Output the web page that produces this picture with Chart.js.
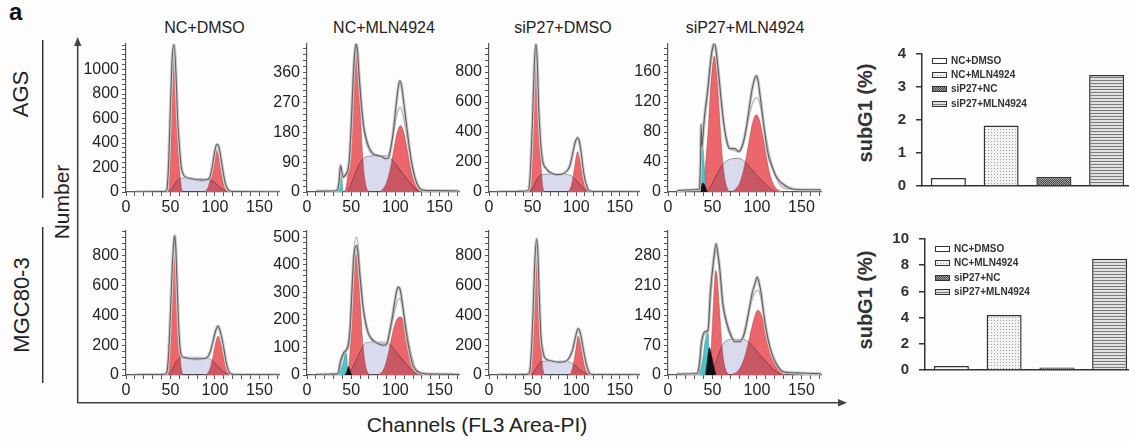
<!DOCTYPE html>
<html><head><meta charset="utf-8">
<script src="https://cdn.jsdelivr.net/npm/chart.js@4.4.1/dist/chart.umd.min.js"></script>
<style>
html,body{margin:0;padding:0;background:#fdfdfe;width:1129px;height:442px;overflow:hidden;font-family:"Liberation Sans",Arial,Helvetica,sans-serif;}
canvas{position:absolute;}
.t{position:absolute;white-space:nowrap;color:#222;line-height:1;}
.r{position:absolute;white-space:nowrap;color:#222;line-height:1;transform:translate(-50%,-50%) rotate(-90deg);}
svg{position:absolute;left:0;top:0;}
</style></head><body>
<div class="t" style="left:9px;top:0px;font-size:24px;font-weight:bold;color:#111">a</div>
<div id="titles"></div>
<div class="r" style="left:21px;top:94px;font-size:22px;">AGS</div>
<div class="r" style="left:22px;top:305px;font-size:22px;">MGC80-3</div>
<div class="r" style="left:61px;top:202px;font-size:21px;">Number</div>
<div class="t" style="left:477px;top:414px;font-size:21px;transform:translateX(-50%);">Channels (FL3 Area-PI)</div>
<div class="r" style="left:865px;top:113px;font-size:20px;font-weight:bold;color:#333">subG1 (%)</div>
<div class="r" style="left:865px;top:300px;font-size:20px;font-weight:bold;color:#333">subG1 (%)</div>
<svg width="1129" height="442">
  <line x1="42.7" y1="40" x2="42.7" y2="198" stroke="#333" stroke-width="1.5"/>
  <line x1="42.7" y1="227" x2="42.7" y2="383" stroke="#333" stroke-width="1.5"/>
  <line x1="77.7" y1="44" x2="77.7" y2="403" stroke="#444" stroke-width="1.6"/>
  <polygon points="77.7,37 74,46 81.4,46" fill="#444"/>
  <line x1="77" y1="402.7" x2="840" y2="402.7" stroke="#444" stroke-width="1.6"/>
  <polygon points="847,402.7 838,399 838,406.4" fill="#444"/>
</svg>
<script>
const FONT = '"Liberation Sans", Arial, Helvetica, sans-serif';
Chart.defaults.font.family = FONT;

// ---------- categories / labels ----------
const columnTitles = ['NC+DMSO', 'NC+MLN4924', 'siP27+DMSO', 'siP27+MLN4924'];
const barCategories = ['NC+DMSO', 'NC+MLN4924', 'siP27+NC', 'siP27+MLN4924'];
const xTickLabels = [0, 50, 100, 150];
const xMax = 172;

// ---------- y axis ranges and tick labels ----------
const r1p1_yLabels = [0, 200, 400, 600, 800, 1000];
const r1p2_yLabels = [0, 90, 180, 270, 360];
const r1p3_yLabels = [0, 200, 400, 600, 800];
const r1p4_yLabels = [0, 40, 80, 120, 160];
const r2p1_yLabels = [0, 200, 400, 600, 800];
const r2p2_yLabels = [0, 100, 200, 300, 400, 500];
const r2p3_yLabels = [0, 200, 400, 600, 800];
const r2p4_yLabels = [0, 70, 140, 210, 280];
const row1_yMax = [1212, 447, 990, 198];
const row2_yMax = [967, 524, 967, 338];

// ---------- AGS NC+DMSO ----------
const r1p1_data = [[10,2],[30,3],[44,4],[46,20],[48,250],[50,700],[52,1100],[54,1205],[56,1000],[58,600],[60,380],[62,210],[64,150],[67,122],[72,110],[78,102],[85,97],[90,100],[94,115],[97,210],[100,340],[102,390],[104,375],[106,310],[108,215],[110,130],[112,60],[115,18],[118,6],[125,3],[172,2]];
const r1p1_g1 = [[46,0],[48,60],[50,300],[52,790],[54,1160],[55,1150],[56,980],[58,560],[60,220],[62,50],[64,0]];
const r1p1_g2 = [[87,0],[92,33],[95,115],[98,250],[101.5,342],[104,291],[107,157],[110,53],[113,11],[116,0]];
const r1p1_s = [[48,0],[52,30],[56,80],[60,108],[65,116],[75,114],[85,110],[93,104],[98,85],[103,55],[108,25],[113,5],[116,0]];

// ---------- AGS NC+MLN4924 ----------
const r1p2_data = [[10,2],[30,3],[34,5],[36,25],[38,80],[39.5,60],[41,45],[43,50],[46,65],[48,100],[50,200],[52,330],[54,420],[55.5,447],[57,430],[59,350],[61,280],[64,200],[67,160],[70,135],[75,115],[80,110],[85,106],[89,100],[92,102],[95,135],[98,190],[101,265],[103.5,320],[105,335],[107,320],[109,280],[112,215],[115,150],[118,95],[121,55],[124,28],[128,10],[133,5],[145,4],[172,3]];
const r1p2_model = [[34,0],[38,40],[42,45],[46,60],[50,190],[54,410],[55.5,435],[57,420],[60,300],[64,190],[68,140],[75,112],[85,108],[92,112],[96,150],[100,210],[103,245],[105.5,255],[108,240],[111,200],[115,140],[120,65],[125,22],[130,6],[140,2]];
const r1p2_cyan = [[34,0],[36,20],[37.5,60],[38.5,80],[39.5,50],[40.5,10],[41.5,0]];
const r1p2_g1 = [[43,0],[46,46],[49,150],[52,314],[55.5,425],[58,364],[61,201],[64,71],[67,16],[70,2],[72,0]];
const r1p2_g2 = [[82,0],[86,9],[90,28],[94,67],[98,124],[102,179],[105.8,200],[109,185],[112,148],[116,89],[120,41],[124,15],[128,4],[132,0]];
const r1p2_s = [[46,0],[50,25],[55,60],[60,88],[65,103],[70,108],[80,110],[90,108],[95,100],[100,85],[105,68],[110,50],[115,33],[120,17],[125,5],[128,0]];

// ---------- AGS siP27+DMSO ----------
const r1p3_data = [[10,2],[30,3],[40,5],[44,8],[46,30],[48,200],[50,500],[52,850],[53.8,988],[55.5,850],[57,560],[58.5,390],[60,275],[62,195],[65,160],[68,140],[72,125],[77,116],[82,117],[86,125],[90,145],[93,180],[96,260],[99,335],[101.5,362],[103.5,340],[105.5,270],[108,150],[110,85],[112,40],[114,13],[117,5],[125,3],[172,2]];
const r1p3_g1 = [[44,0],[46,25],[48,150],[50,420],[52,760],[53.8,924],[55.5,800],[57,540],[59,250],[61,70],[63,5],[64,0]];
const r1p3_g2 = [[90,0],[93,20],[96,85],[99,200],[101.5,269],[104,220],[106.5,130],[109,55],[112,15],[115,3],[117,0]];
const r1p3_s = [[47,0],[51,35],[55,85],[60,115],[68,120],[78,115],[88,118],[93,112],[98,90],[103,58],[108,28],[113,8],[117,0]];

// ---------- AGS siP27+MLN4924 ----------
const r1p4_data = [[10,2],[30,3],[35,4],[36.5,40],[37.3,90],[38,60],[39,70],[41,100],[43,120],[45,140],[48,176],[50,192],[52,199],[54,190],[56,168],[58,145],[60,120],[63,88],[66,68],[69,58],[72,58],[75,58],[78,55],[80,54],[83,60],[86,73],[89,93],[92,118],[95,140],[98,153],[99.5,155],[101,150],[104,124],[107,95],[110,68],[113,48],[117,34],[121,22],[125,15],[130,10],[135,6],[140,4],[150,3],[172,3]];
const r1p4_model = [[36,0],[38,60],[41,95],[45,135],[48,170],[52,195],[56,165],[60,118],[64,82],[68,62],[72,56],[78,55],[84,62],[90,95],[95,118],[99.5,126],[104,115],[108,90],[112,62],[117,36],[122,18],[127,8],[135,3]];
const r1p4_cyan = [[35.5,0],[36.5,30],[37.5,70],[38.5,79],[39.5,60],[41,30],[43,0]];
const r1p4_black = [[35,0],[37,5],[39,12],[41,10],[43,4],[44,0]];
const r1p4_g1 = [[39,0],[42,35],[45,80],[48,139],[52,181],[55,156],[58,100],[61,47],[64,17],[67,4],[70,0]];
const r1p4_g2 = [[71,0],[76,4],[81,13],[86,35],[91,67],[95,92],[99.3,103],[103,95],[107,72],[111,44],[115,22],[120,7],[125,2],[130,0]];
const r1p4_s = [[44,0],[50,12],[55,24],[60,34],[65,41],[70,44],[78,45],[85,42],[90,36],[95,29],[100,22],[105,16],[110,10],[115,5],[120,1],[123,0]];

// ---------- MGC80-3 NC+DMSO ----------
const r2p1_data = [[10,2],[30,3],[44,5],[46,20],[48,150],[50,420],[52,720],[54,910],[54.8,933],[56,850],[57.5,600],[59,350],[60.5,200],[62,135],[65,118],[71,111],[77,108],[83,107],[88,110],[92,122],[95,160],[98,230],[101,300],[103.6,327],[106,290],[109,211],[111,140],[113,75],[115,32],[117,12],[120,5],[130,3],[172,2]];
const r2p1_g1 = [[45,0],[47,40],[49,220],[51,520],[53,790],[54.8,867],[56.5,760],[58,520],[60,220],[62,50],[64,0]];
const r2p1_g2 = [[87,0],[91,8],[94,35],[97,100],[100,195],[103.6,260],[106.5,215],[109,140],[111.5,70],[114,25],[117,5],[119,0]];
const r2p1_s = [[48,0],[52,35],[56,85],[60,112],[65,120],[75,120],[85,118],[92,115],[97,95],[102,65],[107,35],[112,12],[117,0]];

// ---------- MGC80-3 NC+MLN4924 ----------
const r2p2_data = [[10,2],[30,3],[35,5],[37.7,48],[41.4,80],[45.9,98],[47.5,120],[48.9,175],[50.5,280],[52.7,416],[54.5,462],[56.5,470],[58,430],[60,355],[62,290],[64,235],[67,180],[69.6,150],[73,132],[77,120],[81,113],[85,108],[88,108],[90.6,114],[93,150],[96,199],[99,260],[101.5,305],[103,319],[105,314],[107.7,265],[110,210],[113,140],[116,85],[119,42],[123,18],[128,8],[135,4],[150,3],[172,2]];
const r2p2_model = [[36,0],[40,60],[45,100],[48,160],[50.5,300],[53,450],[55.5,500],[57.5,480],[60,380],[63,250],[67,170],[72,130],[80,115],[88,112],[93,140],[97,200],[101,255],[104,277],[107,265],[110,215],[114,140],[118,70],[122,30],[127,10],[135,3]];
const r2p2_cyan = [[35.5,0],[38,15],[40,35],[42,60],[43.5,84],[45,70],[46,20],[46.5,0]];
const r2p2_black = [[43,0],[45,12],[47,30],[49,12],[51,0]];
const r2p2_g1 = [[45,0],[47,25],[49,100],[51,230],[53,365],[55.3,440],[57.5,400],[60,270],[63,120],[66,38],[69,6],[71,0]];
const r2p2_g2 = [[80,0],[84,8],[88,30],[92,78],[96,140],[100,190],[105.8,211],[110,190],[114,140],[118,80],[121,40],[124,12],[127,0]];
const r2p2_s = [[47,0],[52,30],[57,65],[62,95],[67,118],[75,120],[85,120],[92,115],[97,100],[102,80],[107,60],[112,40],[117,22],[121,10],[125,0]];

// ---------- MGC80-3 siP27+DMSO ----------
const r2p3_data = [[10,2],[30,3],[44,4],[46.5,20],[48.5,150],[50.5,420],[52.5,750],[54.6,911],[56,820],[57.5,550],[59.6,260],[61.5,165],[63.4,122],[67,102],[73,92],[80.6,86],[88,92],[92,115],[95.7,167],[99,250],[102.2,311],[104.5,285],[107,211],[109.5,130],[111.5,75],[113,45],[115,15],[117,5],[125,3],[172,2]];
const r2p3_g1 = [[46.5,0],[48.5,60],[50.5,300],[52.5,650],[54.6,855],[56.5,700],[58.5,380],[60.5,120],[62.5,20],[64,0]];
const r2p3_g2 = [[91.5,0],[94,15],[97,80],[100,190],[102.2,260],[104.5,220],[107,135],[110,50],[113,12],[116.5,0]];
const r2p3_s = [[49,0],[53,35],[57,72],[62,92],[70,93],[80,88],[88,90],[93,86],[98,68],[103,42],[108,20],[113,6],[117,0]];

// ---------- MGC80-3 siP27+MLN4924 ----------
const r2p4_data = [[10,2],[30,3],[33,4],[35.5,30],[37.5,74],[41.3,101],[45,105],[47.5,190],[51.2,268],[54.2,307],[56,285],[58,253],[61.7,167],[64.5,135],[67.4,113],[71,92],[74.9,78],[80.5,78],[86,98],[91.7,159],[95,195],[97.3,210],[100.3,229],[102.5,215],[104.8,190],[107.5,145],[110.4,105],[114,70],[118,43],[123,22],[129,8],[135,6],[144,5],[155,4],[172,3]];
const r2p4_model = [[35,0],[38,70],[41,95],[45,100],[48,180],[51,255],[54,295],[57,260],[61,170],[66,115],[72,85],[78,80],[84,90],[90,140],[95,180],[100.3,198],[104,185],[108,140],[112,90],[117,48],[122,22],[128,8],[135,3]];
const r2p4_cyan = [[34,0],[36,8],[37.5,20],[39.5,45],[41.3,74],[43.5,95],[45,101],[46,60],[46.8,0]];
const r2p4_black = [[42,0],[44,30],[46.5,64],[49,45],[51.5,20],[54,0]];
const r2p4_g1 = [[46,0],[48,45],[50,120],[52,205],[53.5,245],[55.5,225],[58,150],[61,60],[64,18],[67,4],[70,0]];
const r2p4_g2 = [[70,0],[75,4],[80,13],[85,35],[90,72],[95,118],[101,152],[106,135],[111,95],[116,55],[121,25],[126,9],[131,2],[134,0]];
const r2p4_s = [[48,0],[53,25],[58,55],[64,78],[72,84],[80,84],[87,82],[92,75],[98,60],[104,45],[110,32],[116,18],[122,8],[128,0]];

// ---------- subG1 bar values ----------
const agsSubG1 = [0.24, 1.83, 0.27, 3.36];
const mgcSubG1 = [0.30, 4.2, 0.20, 8.5];

// ================= layout (positions / styles) =================
const colX0 = [126, 307, 489, 668];
const colW = [153, 152, 150, 153];
const rowTop = [43, 230];
const rowBase = [192, 375];
const LEFTW = 48, PADT = 12, PADR = 8, XH = 26;

// titles
const tdiv = document.getElementById('titles');
const titleCenters = [204.5, 384, 563, 745];
columnTitles.forEach((t, i) => {
  const d = document.createElement('div');
  d.className = 't';
  d.style.cssText = `left:${titleCenters[i]}px;top:20px;font-size:16px;transform:translateX(-50%);color:#222`;
  d.textContent = t;
  tdiv.appendChild(d);
});

function addCanvas(left, top, w, h) {
  const c = document.createElement('canvas');
  c.width = w; c.height = h;
  c.style.left = left + 'px'; c.style.top = top + 'px';
  c.style.width = w + 'px'; c.style.height = h + 'px';
  document.body.appendChild(c);
  return c;
}
const toXY = a => a.map(p => ({x: p[0], y: p[1]}));

// multiply blending for the S-phase fill; must run before the Filler plugin
const blendPlugin = {
  id: 'blend',
  beforeDatasetDraw(chart, args) {
    const d = chart.data.datasets[args.index];
    if (d && d.multiply) { chart.ctx.save(); chart.ctx.globalCompositeOperation = 'multiply'; }
  },
  afterDatasetDraw(chart, args) {
    const d = chart.data.datasets[args.index];
    if (d && d.multiply) chart.ctx.restore();
  }
};
try {
  const filler = Chart.registry.getPlugin('filler');
  Chart.unregister(filler);
  Chart.register(blendPlugin);
  Chart.register(filler);
} catch (e) {
  Chart.register(blendPlugin);
}

function makeHist(row, col, comp, yMax, yStep, yLabels) {
  const W = colW[col], H = rowBase[row] - rowTop[row];
  const cv = addCanvas(colX0[col] - LEFTW, rowTop[row] - PADT, LEFTW + W + PADR, PADT + H + XH);
  const line = (data, o) => Object.assign({data: toXY(data), pointRadius: 0, pointHoverRadius: 0,
    cubicInterpolationMode: 'monotone', fill: false, borderWidth: 1}, o);
  const ds = [];
  ds.push(line(comp.data, {borderColor: '#606060', borderWidth: 1.1, order: 0}));
  if (comp.model) ds.push(line(comp.model, {borderColor: '#b4b4b4', borderWidth: 1.3, order: 1}));
  ds.push(line(comp.data, {borderColor: '#cdcdcd', borderWidth: 3.2, order: 2}));
  ds.push(line(comp.s, {fill: 'origin', backgroundColor: '#dadaee', borderColor: 'rgba(90,90,115,0.55)', borderWidth: 0.8, order: 3, multiply: true}));
  if (comp.black) ds.push(line(comp.black, {fill: 'origin', backgroundColor: '#101010', borderColor: '#101010', borderWidth: 0.5, order: 4}));
  if (comp.cyan) ds.push(line(comp.cyan, {fill: 'origin', backgroundColor: '#4cc3c7', borderColor: 'rgba(40,120,125,0.6)', borderWidth: 0.6, order: 5}));
  ds.push(line(comp.g2, {fill: 'origin', backgroundColor: '#eb676b', borderColor: 'rgba(160,60,60,0.55)', borderWidth: 0.8, order: 6}));
  ds.push(line(comp.g1, {fill: 'origin', backgroundColor: '#eb676b', borderColor: 'rgba(160,60,60,0.55)', borderWidth: 0.8, order: 7}));

  const axisCol = '#555';
  new Chart(cv, {
    type: 'line',
    data: {datasets: ds},
    options: {
      responsive: false, animation: false, devicePixelRatio: 1,
      layout: {padding: {top: PADT, right: PADR, left: 0, bottom: 0}},
      plugins: {legend: {display: false}, tooltip: {enabled: false}},
      events: [],
      scales: {
        x: {type: 'linear', min: 0, max: xMax,
          afterFit(s) { s.height = XH; },
          border: {color: axisCol, width: 1.2},
          grid: {drawOnChartArea: false, drawTicks: true, tickLength: 4, color: axisCol, lineWidth: 1},
          ticks: {stepSize: 10, includeBounds: false, autoSkip: false, maxRotation: 0, padding: 2, color: '#222',
            font: {size: 16, family: FONT}, callback: v => xTickLabels.includes(v) ? String(v) : ''}},
        y: {type: 'linear', min: 0, max: yMax,
          afterFit(s) { s.width = LEFTW; },
          border: {color: axisCol, width: 1.2},
          grid: {drawOnChartArea: false, drawTicks: true, tickLength: 4, color: axisCol, lineWidth: 1},
          ticks: {stepSize: yStep, includeBounds: false, autoSkip: false, padding: 3, color: '#222',
            font: {size: 16, family: FONT}, callback: v => yLabels.includes(v) ? String(v) : ''}}
      }
    }
  });
}

makeHist(0, 0, {data: r1p1_data, g1: r1p1_g1, g2: r1p1_g2, s: r1p1_s}, row1_yMax[0], 40, r1p1_yLabels);
makeHist(0, 1, {data: r1p2_data, model: r1p2_model, cyan: r1p2_cyan, g1: r1p2_g1, g2: r1p2_g2, s: r1p2_s}, row1_yMax[1], 18, r1p2_yLabels);
makeHist(0, 2, {data: r1p3_data, g1: r1p3_g1, g2: r1p3_g2, s: r1p3_s}, row1_yMax[2], 40, r1p3_yLabels);
makeHist(0, 3, {data: r1p4_data, model: r1p4_model, cyan: r1p4_cyan, black: r1p4_black, g1: r1p4_g1, g2: r1p4_g2, s: r1p4_s}, row1_yMax[3], 8, r1p4_yLabels);
makeHist(1, 0, {data: r2p1_data, g1: r2p1_g1, g2: r2p1_g2, s: r2p1_s}, row2_yMax[0], 40, r2p1_yLabels);
makeHist(1, 1, {data: r2p2_data, model: r2p2_model, cyan: r2p2_cyan, black: r2p2_black, g1: r2p2_g1, g2: r2p2_g2, s: r2p2_s}, row2_yMax[1], 20, r2p2_yLabels);
makeHist(1, 2, {data: r2p3_data, g1: r2p3_g1, g2: r2p3_g2, s: r2p3_s}, row2_yMax[2], 40, r2p3_yLabels);
makeHist(1, 3, {data: r2p4_data, model: r2p4_model, cyan: r2p4_cyan, black: r2p4_black, g1: r2p4_g1, g2: r2p4_g2, s: r2p4_s}, row2_yMax[3], 14, r2p4_yLabels);

// ================= subG1 bar charts =================
function makePattern(kind) {
  const c = document.createElement('canvas'); const g = c.getContext('2d');
  if (kind === 'white') { c.width = c.height = 2; g.fillStyle = '#ffffff'; g.fillRect(0, 0, 2, 2); }
  else if (kind === 'dots') { c.width = c.height = 3; g.fillStyle = '#f2f2f2'; g.fillRect(0, 0, 3, 3); g.fillStyle = '#a0a0a0'; g.fillRect(1, 1, 1, 1); }
  else if (kind === 'dark') { c.width = c.height = 2; g.fillStyle = '#a0a0a0'; g.fillRect(0, 0, 2, 2); g.fillStyle = '#4a4a4a'; g.fillRect(0, 0, 1, 1); g.fillRect(1, 1, 1, 1); }
  else { c.width = 4; c.height = 3; g.fillStyle = '#e0e0e0'; g.fillRect(0, 0, 4, 3); g.fillStyle = '#7c7c7c'; g.fillRect(0, 0, 4, 1); }
  return g.createPattern(c, 'repeat');
}
const barFills = [makePattern('white'), makePattern('dots'), makePattern('dark'), makePattern('lines')];

const barLegendPlugin = {
  id: 'barLegend',
  afterDraw(chart, args, opts) {
    const {ctx, chartArea} = chart;
    ctx.save();
    ctx.font = 'bold 10px ' + FONT;
    ctx.textBaseline = 'middle';
    chart.data.labels.forEach((lab, i) => {
      const y = Math.round(chartArea.top + opts.start + i * opts.gap);
      const x = Math.round(chartArea.left + 10);
      ctx.fillStyle = barFills[i];
      ctx.fillRect(x, y - 3, 15, 6);
      ctx.strokeStyle = '#333'; ctx.lineWidth = 1;
      ctx.strokeRect(x + 0.5, y - 2.5, 14, 5);
      ctx.fillStyle = '#333';
      ctx.fillText(lab, x + 19, y + 0.5);
    });
    ctx.restore();
  }
};

function makeBar(axisX, top, bottom, values, yMax, yStep, legStart, legGap) {
  const BL = 40, BT = 10, BB = 12, CW = 211;
  const cv = addCanvas(axisX - BL, top - BT, BL + CW, BT + (bottom - top) + BB);
  new Chart(cv, {
    type: 'bar',
    data: {labels: barCategories, datasets: [{data: values, backgroundColor: barFills, borderColor: '#333',
      borderWidth: 1.5, barPercentage: 0.664, categoryPercentage: 1}]},
    options: {
      responsive: false, animation: false, devicePixelRatio: 1, events: [],
      layout: {padding: {top: BT, right: 0, left: 0, bottom: 0}},
      plugins: {legend: {display: false}, tooltip: {enabled: false}, barLegend: {start: legStart, gap: legGap}},
      scales: {
        x: {type: 'category', offset: true, afterFit(s) { s.height = BB; },
          grid: {display: false}, ticks: {display: false}, border: {color: '#333', width: 1.5}},
        y: {min: 0, max: yMax, afterFit(s) { s.width = BL; },
          border: {color: '#333', width: 1.5},
          grid: {drawOnChartArea: false, tickLength: 6, color: '#333', lineWidth: 1.5},
          ticks: {stepSize: yStep, padding: 10, color: '#333', font: {size: 15, weight: 'bold', family: FONT}}}
      }
    },
    plugins: [barLegendPlugin]
  });
}
makeBar(922, 45, 193, agsSubG1, 4, 1, 6.7, 14.3);
makeBar(925, 230, 377, mgcSubG1, 10, 2, 10, 14.4);
</script>
</body></html>
